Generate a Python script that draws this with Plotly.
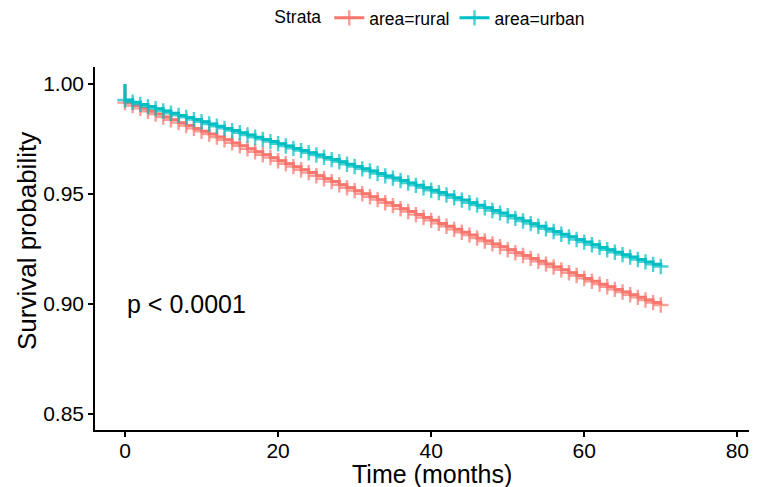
import plotly.graph_objects as go

months = list(range(0, 71))

rural_surv = [
    0.9915, 0.9902, 0.9889, 0.9876, 0.9863, 0.9850, 0.9837, 0.9824, 0.9811, 0.9798,
    0.9785, 0.9772, 0.9759, 0.9746, 0.9732, 0.9719, 0.9705, 0.9692, 0.9678, 0.9665,
    0.9651, 0.9637, 0.9624, 0.9610, 0.9597, 0.9583, 0.9569, 0.9556, 0.9542, 0.9528,
    0.9515, 0.9501, 0.9487, 0.9474, 0.9460, 0.9447, 0.9433, 0.9420, 0.9406, 0.9393,
    0.9380, 0.9366, 0.9353, 0.9339, 0.9326, 0.9313, 0.9299, 0.9286, 0.9273, 0.9260,
    0.9246, 0.9233, 0.9220, 0.9207, 0.9194, 0.9181, 0.9168, 0.9155, 0.9142, 0.9129,
    0.9116, 0.9103, 0.9090, 0.9078, 0.9066, 0.9054, 0.9042, 0.9030, 0.9018, 0.9006,
    0.8995,
]

urban_surv = [
    0.9927, 0.9917, 0.9907, 0.9897, 0.9887, 0.9877, 0.9867, 0.9857, 0.9848, 0.9838,
    0.9828, 0.9818, 0.9808, 0.9798, 0.9788, 0.9778, 0.9768, 0.9758, 0.9748, 0.9738,
    0.9728, 0.9718, 0.9707, 0.9697, 0.9687, 0.9677, 0.9666, 0.9656, 0.9646, 0.9635,
    0.9625, 0.9614, 0.9604, 0.9593, 0.9582, 0.9572, 0.9561, 0.9550, 0.9539, 0.9528,
    0.9517, 0.9506, 0.9495, 0.9483, 0.9472, 0.9460, 0.9449, 0.9437, 0.9425, 0.9413,
    0.9401, 0.9389, 0.9377, 0.9365, 0.9353, 0.9341, 0.9329, 0.9317, 0.9305, 0.9293,
    0.9281, 0.9269, 0.9257, 0.9246, 0.9235, 0.9224, 0.9213, 0.9202, 0.9191, 0.9180,
    0.9170,
]

start_surv = 1.0
series = [("area=rural", rural_surv, "#F8766D"), ("area=urban", urban_surv, "#00BFC4")]

x_ticks = [0, 20, 40, 60, 80]
y_ticks = [0.85, 0.90, 0.95, 1.00]

FONT = "Liberation Sans, Arial, Helvetica, sans-serif"

fig = go.Figure()
for name, surv, color in series:
    xs = [0] + months
    ys = [start_surv] + surv
    sizes = [0] + [11] * len(months)
    fig.add_trace(go.Scatter(
        x=xs, y=ys, name=name, mode="lines+markers",
        line=dict(color=color, width=3, shape="hv"),
        marker=dict(symbol="cross-thin", size=sizes, color=color,
                    line=dict(color=color, width=2.4)),
    ))

fig.add_annotation(
    x=0, y=0.90, xref="x", yref="y", text="p < 0.0001", showarrow=False,
    xanchor="left", yanchor="middle", font=dict(family=FONT, size=25, color="black"),
)
fig.add_annotation(
    x=0.509, y=-0.122, xref="paper", yref="paper", text="Time (months)", showarrow=False,
    xanchor="center", yanchor="middle", font=dict(family=FONT, size=25, color="black"),
)
fig.add_annotation(
    x=-0.103, y=0.52, xref="paper", yref="paper", text="Survival probability", showarrow=False,
    textangle=-90, xanchor="center", yanchor="middle", font=dict(family=FONT, size=26, color="black"),
)

axis_common = dict(
    showline=True, linecolor="black", linewidth=1.6, mirror=False,
    ticks="outside", ticklen=5, tickwidth=1.6, tickcolor="black",
    showgrid=False, zeroline=False, automargin=False,
    tickfont=dict(family=FONT, size=21, color="black"),
)

# page is shown with an 8px body offset; margins compensate so the plot area
# sits at x 95..757, y 67..430 in the window
fig.update_layout(
    width=757, height=487,
    margin=dict(l=87, r=8, t=59, b=65, autoexpand=False),
    paper_bgcolor="white", plot_bgcolor="white",
    font=dict(family=FONT, color="black"),
    xaxis=dict(range=[-3.92, 82.57], tickvals=x_ticks, ticklabelstandoff=-4, **axis_common),
    yaxis=dict(range=[0.8427, 1.0077], tickvals=y_ticks, tickformat=".2f", **axis_common),
    legend=dict(orientation="h", x=0.508, y=1.135, xanchor="center", yanchor="middle",
                title=dict(text="Strata", side="left", font=dict(family=FONT, size=17.5, color="black")),
                font=dict(family=FONT, size=17.5, color="black"),
                itemwidth=30, bgcolor="rgba(0,0,0,0)"),
    showlegend=True,
)

fig.write_html("out.html")
